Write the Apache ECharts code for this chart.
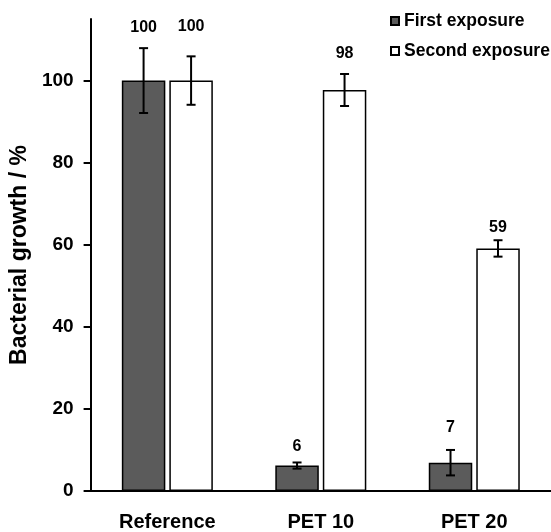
<!DOCTYPE html>
<html>
<head>
<meta charset="utf-8">
<script src="https://cdn.jsdelivr.net/npm/echarts@6/dist/echarts.min.js"></script>
<style>
html,body{margin:0;padding:0;background:#fff;}
#chart{width:551px;height:532px;}
</style>
</head>
<body>
<div id="chart"></div>
<script>
const categories = ['Reference', 'PET 10', 'PET 20'];
const seriesNames = ['First exposure', 'Second exposure'];
const firstValues = [100, 6.2, 6.9];
const secondValues = [100, 97.7, 59.1];
const firstErrors = [7.9, 0.75, 3.1];
const secondErrors = [5.9, 3.9, 2.0];
const yTicks = [0, 20, 40, 60, 80, 100];

// styling: distance (px) of each value label above its error bar top
const firstLabelLift = [21, 16, 22];
const secondLabelLift = [30, 20, 13];

const FONT = "'Liberation Sans', Arial, sans-serif";
const BAR_W = 43.5;
const BAR_GAP = 4;
const OFFSET = (BAR_W + BAR_GAP) / 2;

function errSeries(values, errors, lifts, offset) {
  return {
    type: 'custom',
    silent: true,
    z: 10,
    data: values.map((v, i) => [i, v, errors[i]]),
    renderItem: function (params, api) {
      const cat = api.value(0), val = api.value(1), err = api.value(2);
      const top = api.coord([cat, val + err]);
      const bot = api.coord([cat, val - err]);
      const x = top[0] + offset;
      const cap = 4.5;
      const ls = { stroke: '#000', lineWidth: 2 };
      return {
        type: 'group',
        children: [
          { type: 'line', shape: { x1: x, y1: top[1], x2: x, y2: bot[1] }, style: ls },
          { type: 'line', shape: { x1: x - cap, y1: top[1], x2: x + cap, y2: top[1] }, style: ls },
          { type: 'line', shape: { x1: x - cap, y1: bot[1], x2: x + cap, y2: bot[1] }, style: ls },
          { type: 'text', style: { x: x, y: top[1] - lifts[params.dataIndex], text: String(Math.round(val)),
              fill: '#000', font: 'bold 16px ' + FONT, align: 'center', verticalAlign: 'middle' } }
        ]
      };
    }
  };
}

const chart = echarts.init(document.getElementById('chart'), null, { renderer: 'canvas' });
chart.setOption({
  animation: false,
  backgroundColor: '#fff',
  grid: { left: 86, top: 19, width: 469, bottom: 39, containLabel: false },
  legend: {
    orient: 'vertical',
    left: 390,
    top: 12,
    padding: 0,
    itemWidth: 8,
    itemHeight: 8,
    itemGap: 12,
    data: seriesNames,
    textStyle: { fontFamily: FONT, fontWeight: 'bold', fontSize: 17.5, color: '#000', padding: [0, 0, 0, 0] },
    icon: 'rect'
  },
  xAxis: {
    type: 'category',
    data: categories,
    axisLine: { lineStyle: { color: '#000', width: 2 } },
    axisTick: { show: false },
    axisLabel: { color: '#000', fontFamily: FONT, fontWeight: 'bold', fontSize: 20, margin: 21 }
  },
  yAxis: {
    type: 'value',
    min: 0,
    max: 115,
    interval: 20,
    name: 'Bacterial growth / %',
    nameLocation: 'middle',
    nameGap: 45,
    nameTextStyle: { color: '#000', fontFamily: FONT, fontWeight: 'bold', fontSize: 23 },
    axisLine: { show: true, lineStyle: { color: '#000', width: 2 } },
    axisTick: { show: true, inside: false, length: 7, lineStyle: { color: '#000', width: 2 }, customValues: yTicks },
    axisLabel: { color: '#000', fontFamily: FONT, fontWeight: 'bold', fontSize: 19, margin: 17, customValues: yTicks },
    splitLine: { show: false }
  },
  series: [
    {
      name: seriesNames[0], type: 'bar', data: firstValues,
      barWidth: BAR_W, barGap: (BAR_GAP / BAR_W * 100) + '%',
      itemStyle: { color: '#5b5b5b', borderColor: '#000', borderWidth: 1.5 }
    },
    {
      name: seriesNames[1], type: 'bar', data: secondValues,
      barWidth: BAR_W,
      itemStyle: { color: '#fff', borderColor: '#000', borderWidth: 1.5 }
    },
    errSeries(firstValues, firstErrors, firstLabelLift, -OFFSET),
    errSeries(secondValues, secondErrors, secondLabelLift, OFFSET)
  ]
});
</script>
</body>
</html>
